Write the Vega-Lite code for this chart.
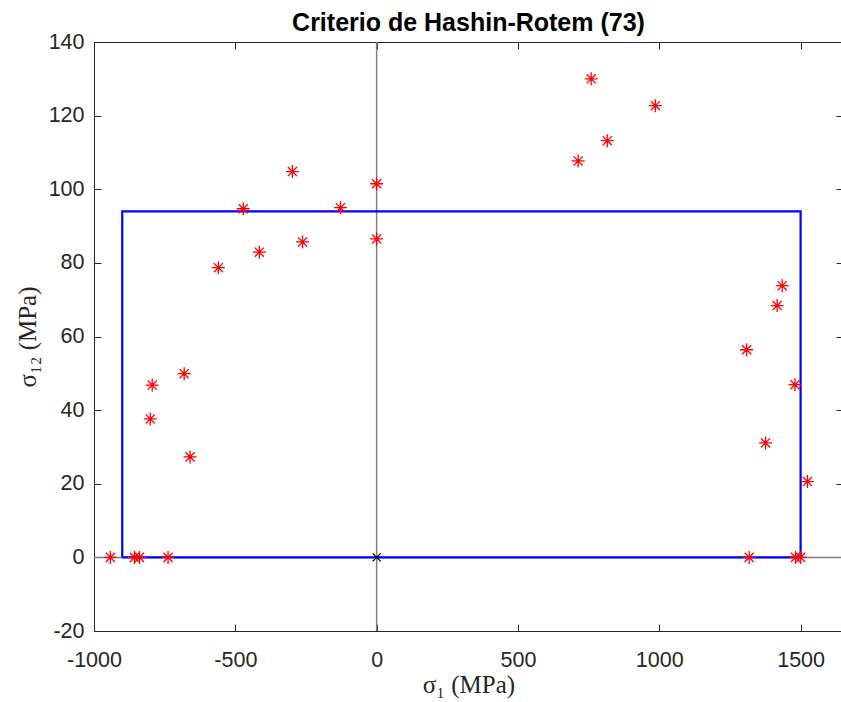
{
  "$schema": "https://vega.github.io/schema/vega-lite/v6.json",
  "autosize": "none",
  "width": 749,
  "height": 589,
  "padding": {"left": 94, "top": 42, "right": 0, "bottom": 71},
  "background": "white",
  "config": {
    "view": {"stroke": "#262626", "strokeWidth": 1},
    "axis": {"grid": false, "domain": false, "labelFlush": false, "labelOverlap": false, "labelFont": "Liberation Sans", "labelFontSize": 21.5, "labelColor": "#262626", "tickColor": "#262626", "tickSize": -7, "tickWidth": 1, "titleFont": "Liberation Serif", "titleFontWeight": "normal", "titleFontSize": 25, "titleColor": "#262626", "labelExpr": "datum.value + ''"}
  },
  "title": {"text": "Criterio de Hashin-Rotem (73)", "font": "Liberation Sans", "fontSize": 25, "fontWeight": "bold", "color": "#000000", "offset": 8, "dy": 13, "anchor": "middle"},
  "datasets": {
    "rect": [
      {"o": 1, "s1": -900, "s12": 0},
      {"o": 2, "s1": -900, "s12": 94},
      {"o": 3, "s1": 1500, "s12": 94},
      {"o": 4, "s1": 1500, "s12": 0},
      {"o": 5, "s1": -900, "s12": 0}
    ],
    "pts": [
      {"s1": -942, "s12": 0},
      {"s1": -857, "s12": 0},
      {"s1": -839, "s12": 0},
      {"s1": -738, "s12": 0},
      {"s1": -794, "s12": 46.8},
      {"s1": -801, "s12": 37.6},
      {"s1": -681, "s12": 49.9},
      {"s1": -660, "s12": 27.3},
      {"s1": -560, "s12": 78.7},
      {"s1": -415, "s12": 82.9},
      {"s1": -472, "s12": 94.7},
      {"s1": -298, "s12": 104.8},
      {"s1": -262, "s12": 85.7},
      {"s1": -128, "s12": 95},
      {"s1": 0, "s12": 101.5},
      {"s1": 0, "s12": 86.5},
      {"s1": 713, "s12": 107.7},
      {"s1": 759, "s12": 130},
      {"s1": 816, "s12": 113.2},
      {"s1": 986, "s12": 122.7},
      {"s1": 1318, "s12": 0},
      {"s1": 1482, "s12": 0},
      {"s1": 1500, "s12": 0},
      {"s1": 1435, "s12": 73.8},
      {"s1": 1417, "s12": 68.4},
      {"s1": 1309, "s12": 56.4},
      {"s1": 1480, "s12": 46.9},
      {"s1": 1376, "s12": 31.1},
      {"s1": 1524, "s12": 20.6}
    ],
    "origin": [{"s1": 0, "s12": 0}]
  },
  "layer": [
    {
      "data": {"name": "origin"},
      "mark": {"type": "rule", "color": "#808080", "strokeWidth": 1.5},
      "encoding": {
        "x": {"field": "s1", "type": "quantitative", "scale": {"domain": [-1000, 1650], "nice": false, "zero": false},
              "axis": {"orient": "bottom", "values": [-1000, -500, 0, 500, 1000, 1500], "title": "σ₁ (MPa)", "titlePadding": 2, "labelPadding": 25}}
      }
    },
    {
      "data": {"name": "origin"},
      "mark": {"type": "rule", "color": "#808080", "strokeWidth": 1.5},
      "encoding": {
        "y": {"field": "s12", "type": "quantitative", "scale": {"domain": [-20, 140], "nice": false, "zero": false},
              "axis": {"orient": "left", "values": [-20, 0, 20, 40, 60, 80, 100, 120, 140], "title": "σ₁₂ (MPa)", "titlePadding": 8, "labelPadding": 17}}
      }
    },
    {
      "data": {"name": "rect"},
      "mark": {"type": "line", "color": "#0000ff", "strokeWidth": 2.2},
      "encoding": {
        "x": {"field": "s1", "type": "quantitative", "axis": {"orient": "top", "values": [-1000, -500, 0, 500, 1000, 1500], "labels": false, "title": null}},
        "y": {"field": "s12", "type": "quantitative", "axis": {"orient": "right", "values": [-20, 0, 20, 40, 60, 80, 100, 120, 140], "labels": false, "title": null}},
        "order": {"field": "o", "type": "quantitative"}
      }
    },
    {
      "data": {"name": "pts"},
      "mark": {"type": "point", "shape": "M-1,0L1,0M0,-1L0,1M-0.7,-0.7L0.7,0.7M-0.7,0.7L0.7,-0.7", "filled": false, "stroke": "#ff0000", "strokeWidth": 1.3, "size": 169, "opacity": 1},
      "encoding": {
        "x": {"field": "s1", "type": "quantitative", "axis": null},
        "y": {"field": "s12", "type": "quantitative", "axis": null}
      }
    },
    {
      "data": {"name": "origin"},
      "mark": {"type": "point", "shape": "M-1,-1L1,1M-1,1L1,-1", "filled": false, "stroke": "#000000", "strokeWidth": 1.3, "size": 64, "opacity": 1},
      "encoding": {
        "x": {"field": "s1", "type": "quantitative", "axis": null},
        "y": {"field": "s12", "type": "quantitative", "axis": null}
      }
    }
  ],
  "resolve": {"axis": {"x": "independent", "y": "independent"}}
}
